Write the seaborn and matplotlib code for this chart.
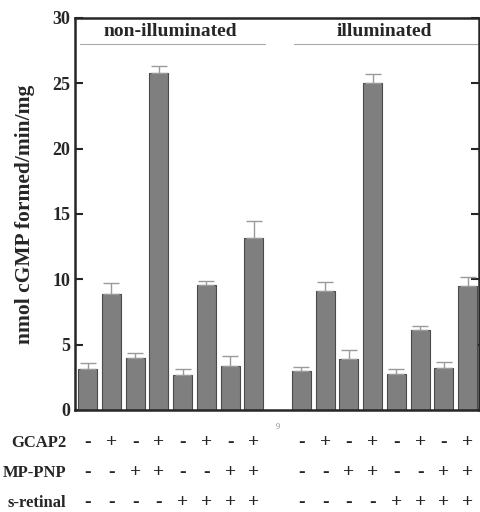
import numpy as np
import pandas as pd
import matplotlib
matplotlib.use("Agg")
import matplotlib.pyplot as plt
import seaborn as sns

# bar slots (slot 8 is the gap between the two groups)
positions = [0, 1, 2, 3, 4, 5, 6, 7, 9, 10, 11, 12, 13, 14, 15, 16]
values = [3.15, 8.85, 4.0, 25.8, 2.7, 9.55, 3.4, 13.2,
          2.95, 9.13, 3.92, 25.0, 2.72, 6.15, 3.23, 9.46]
errors = [0.45, 0.85, 0.4, 0.5, 0.4, 0.35, 0.7, 1.3,
          0.35, 0.65, 0.7, 0.7, 0.4, 0.3, 0.45, 0.75]

gcap2 = ['-', '+', '-', '+', '-', '+', '-', '+'] * 2
gmppnp = ['-', '-', '+', '+', '-', '-', '+', '+'] * 2
retinal = ['-', '-', '-', '-', '+', '+', '+', '+'] * 2
# row labels as visible in the (cropped) reference
row_labels = ['GCAP2', 'MP-PNP', 's-retinal']

groups = ['non-illuminated', 'illuminated']
group_slots = [(0, 7), (9, 16)]

df = pd.DataFrame({'pos': positions, 'val': values, 'err': errors})

sns.set_style('ticks')
plt.rcParams['font.family'] = ['Liberation Serif', 'DejaVu Serif']
plt.rcParams['font.weight'] = 'bold'

fig = plt.figure(figsize=(4.8, 5.12), dpi=100)
ax = fig.add_axes([75 / 480, 1 - 410 / 512, 404 / 480, 392 / 512])

sns.barplot(data=df, x='pos', y='val', native_scale=True, width=0.8,
            color='#7f7f7f', edgecolor='#4a4a4a', linewidth=0.8,
            saturation=1, errorbar=None, ax=ax)
ax.errorbar(df['pos'], df['val'], yerr=[np.zeros(len(df)), df['err']],
            fmt='none', ecolor='#9a9a9a', elinewidth=1, capsize=5.5, capthick=1)

ax.set_xlim(-0.53, 16.48)
ax.set_ylim(0, 30)
ax.set_yticks(range(0, 31, 5))
ax.set_xticks([])
ax.set_xlabel('')
ax.set_ylabel('nmol cGMP formed/min/mg', fontsize=15.5, fontweight='bold', labelpad=12)
ax.tick_params(axis='y', direction='in', length=6, width=1.5, labelsize=13,
               right=True, left=True)
for lab in ax.get_yticklabels():
    lab.set_fontweight('bold')
for sp in ax.spines.values():
    sp.set_linewidth(1.8)
    sp.set_visible(True)

# group headers with underline
for name, (a, b) in zip(groups, group_slots):
    ax.text((a + b) / 2, 28.95, name, ha='center', va='center',
            fontsize=14, fontweight='bold')
    ax.plot([a - 0.3, b + 0.45], [28.0, 28.0], color='#aaaaaa', lw=0.8,
            clip_on=False)

# condition rows below the axis
trans = matplotlib.transforms.blended_transform_factory(ax.transData, ax.transAxes)
row_y = [-0.083, -0.160, -0.236]
for signs, ry, lab in zip([gcap2, gmppnp, retinal], row_y, row_labels):
    for p, s in zip(positions, signs):
        ax.text(p, ry, s, transform=trans, ha='center', va='center',
                fontsize=14, fontweight='bold')
    ax.text(-0.022, ry, lab, transform=ax.transAxes, ha='right', va='center',
            fontsize=12, fontweight='bold')

ax.text(8, -0.043, '9', transform=trans, ha='center', va='center',
        fontsize=6, color='#888888', fontweight='normal')

fig.savefig('out.png', dpi=100)
